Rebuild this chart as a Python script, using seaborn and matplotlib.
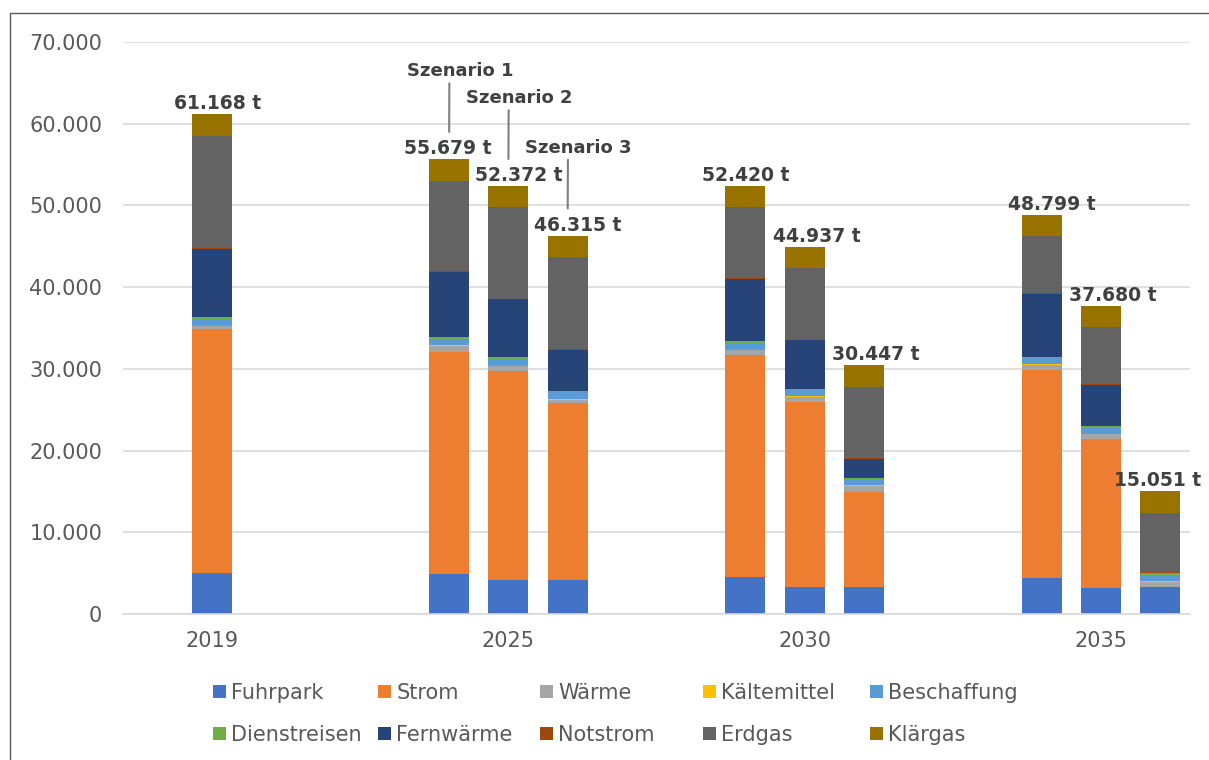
import numpy as np
import matplotlib
matplotlib.use("Agg")
import matplotlib.pyplot as plt
from matplotlib.patches import Patch, Rectangle
from matplotlib.ticker import FuncFormatter, MultipleLocator
import seaborn as sns

# --- data (t CO2) --------------------------------------------------------
years = ["2019", "2025", "2030", "2035"]
bar_year = ["2019", "2025", "2025", "2025", "2030", "2030", "2030", "2035", "2035", "2035"]
bar_scenario = [0, 1, 2, 3, 1, 2, 3, 1, 2, 3]  # 0 = Bestand 2019

series = ["Fuhrpark", "Strom", "Wärme", "Kältemittel", "Beschaffung",
          "Dienstreisen", "Fernwärme", "Notstrom", "Erdgas", "Klärgas"]

fuhrpark = [5040, 4850, 4160, 4160, 4490, 3270, 3270, 4450, 3220, 3270]
strom = [29840, 27270, 25600, 21640, 27190, 22650, 11710, 25470, 18170, 0]
waerme = [410, 700, 550, 450, 570, 650, 700, 600, 600, 690]
kaeltemittel = [0, 50, 60, 60, 80, 80, 60, 80, 50, 50]
beschaffung = [830, 820, 860, 820, 820, 730, 730, 690, 780, 800]
dienstreisen = [200, 200, 200, 200, 200, 200, 200, 200, 200, 150]
fernwaerme = [8350, 7930, 7070, 4980, 7680, 5920, 2280, 7640, 5030, 0]
notstrom = [120, 150, 80, 80, 150, 80, 120, 120, 80, 150]
erdgas = [13680, 11070, 11230, 11340, 8650, 8730, 8650, 6990, 6970, 7200]
klaergas = [2698, 2639, 2562, 2585, 2590, 2627, 2727, 2559, 2580, 2741]

values = [fuhrpark, strom, waerme, kaeltemittel, beschaffung,
          dienstreisen, fernwaerme, notstrom, erdgas, klaergas]

colors = ["#4472C4", "#ED7D31", "#A5A5A5", "#FFC000", "#5B9BD5",
          "#70AD47", "#264478", "#9E480E", "#636363", "#997300"]

# --- style ---------------------------------------------------------------
sns.set_theme(style="white")
plt.rcParams["font.family"] = ["DejaVu Sans"]

W, H = 1209, 760
fig = plt.figure(figsize=(W / 100, H / 100), dpi=100)
ax = fig.add_axes([123 / W, 146 / H, 1067 / W, 572 / H])

positions = [years.index(y) + (0.0 if s == 0 else (s - 2) * 0.2)
             for y, s in zip(bar_year, bar_scenario)]

cum = np.cumsum(np.array(values, dtype=float), axis=0)

# stacked bars: draw cumulative heights from the top segment downwards
for i in reversed(range(len(series))):
    sns.barplot(x=positions, y=cum[i], native_scale=True, orient="x",
                width=0.675, color=colors[i], saturation=1, errorbar=None,
                linewidth=0, ax=ax)

ax.set_xlim(-0.3, 3.3)
ax.set_ylim(0, 70000)
ax.set_xticks(range(len(years)))
ax.set_xticklabels(years)
ax.yaxis.set_major_locator(MultipleLocator(10000))


def de_fmt(v):
    return f"{v:,.0f}".replace(",", ".")


ax.yaxis.set_major_formatter(FuncFormatter(lambda v, p: de_fmt(v)))
ax.set_xlabel("")
ax.set_ylabel("")
ax.set_axisbelow(True)
ax.grid(axis="y", color="#D9D9D9", linewidth=1.2)
ax.grid(axis="x", visible=False)
for side in ["left", "right", "top"]:
    ax.spines[side].set_visible(False)
ax.spines["bottom"].set_color("#D9D9D9")
ax.spines["bottom"].set_linewidth(1.2)
ax.tick_params(axis="y", length=0, labelsize=15, labelcolor="#595959", pad=15)
ax.tick_params(axis="x", length=0, labelsize=15, labelcolor="#595959", pad=12)

# --- total labels --------------------------------------------------------
label_dx = [6, -1, 10, 10, 0, 12, 12, 10, 12, -3]
totals = cum[-1]
for x, t, dx in zip(positions, totals, label_dx):
    ax.annotate(de_fmt(t) + " t", xy=(x, t), xytext=(dx, 5),
                textcoords="offset pixels", ha="center", va="baseline",
                fontsize=13.5, fontweight="bold", color="#404040",
                annotation_clip=False)

# --- scenario call-outs for 2025 -----------------------------------------
for k, (y, s) in enumerate(zip(bar_year, bar_scenario)):
    if y == "2025":
        ax.annotate(f"Szenario {s}", xy=(positions[k], totals[k]),
                    xytext=(11, 88), textcoords="offset pixels",
                    ha="center", va="center", fontsize=13,
                    fontweight="bold", color="#404040",
                    annotation_clip=False,
                    arrowprops=dict(arrowstyle="-", color="#7F7F7F", lw=1.5,
                                    relpos=(0.4, 0.0), shrinkA=0,
                                    shrinkB=19.5))

# --- legend: 5 columns x 2 rows --------------------------------------------
handles = [Patch(facecolor=c, edgecolor="none") for c in colors]
col_x = [213, 378, 540, 703, 870]
for j, xpx in enumerate(col_x):
    fig.legend(handles=[handles[j], handles[j + 5]],
               labels=[series[j], series[j + 5]],
               loc="center left", bbox_to_anchor=(xpx / W, 1 - 714 / H),
               frameon=False, borderpad=0, borderaxespad=0,
               handlelength=0.62, handleheight=0.62, handletextpad=0.25,
               labelspacing=1.05, fontsize=15, labelcolor="#595959")

# outer frame
fig.add_artist(Rectangle((10 / W, -0.5), 2.0, 0.5 + (1 - 13 / H),
                         transform=fig.transFigure, fill=False,
                         edgecolor="#595959", linewidth=1.0))

fig.savefig("out.png", dpi=100)
